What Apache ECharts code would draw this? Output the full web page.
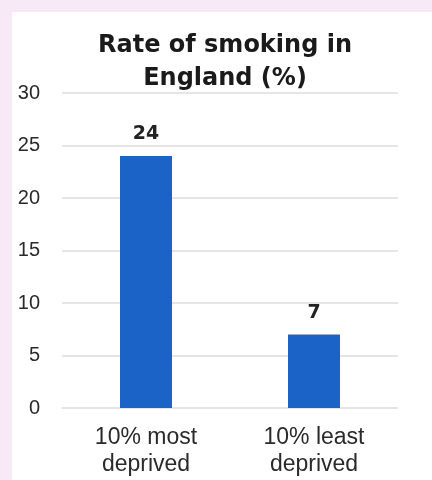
<!DOCTYPE html>
<html>
<head>
<meta charset="utf-8">
<script src="https://cdn.jsdelivr.net/npm/echarts@6/dist/echarts.min.js"></script>
<style>
html,body{margin:0;padding:0;background:#f7e9f5;}
#c{width:432px;height:480px;}
</style>
</head>
<body>
<div id="c"></div>
<script>
const titleText = "Rate of smoking in\nEngland (%)";
const categories = ["10% most\ndeprived", "10% least\ndeprived"];
const values = [24, 7];
const yTicks = [0, 5, 10, 15, 20, 25, 30];

const chart = echarts.init(document.getElementById('c'));
chart.setOption({
  backgroundColor: '#f7e9f5',
  animation: false,
  graphic: [{
    type: 'rect', left: 12, top: 12, z: -10,
    shape: { width: 420, height: 468 },
    style: { fill: '#ffffff' }
  }],
  title: {
    text: titleText,
    left: 220, top: 24, textAlign: 'center',
    textStyle: { fontFamily: 'DejaVu Sans', fontSize: 24, fontWeight: 'bold', color: '#1a1a1a', lineHeight: 33 }
  },
  grid: { left: 62, right: 34, top: 93, bottom: 72, containLabel: false },
  xAxis: {
    type: 'category', data: categories,
    axisLine: { show: false }, axisTick: { show: false },
    axisLabel: { margin: 16, fontFamily: 'Liberation Sans', fontSize: 23, color: '#2a2a2a', lineHeight: 27 }
  },
  yAxis: {
    type: 'value', min: yTicks[0], max: yTicks[yTicks.length - 1], interval: 5,
    axisLine: { show: false }, axisTick: { show: false },
    axisLabel: { margin: 22, fontFamily: 'Liberation Sans', fontSize: 20, color: '#2a2a2a' },
    splitLine: { lineStyle: { color: '#dcdcdc', width: 1.5 } }
  },
  series: [{
    type: 'bar', data: values, barWidth: 52,
    itemStyle: { color: '#1c63c8' },
    label: { show: true, position: 'top', distance: 12, fontFamily: 'DejaVu Sans', fontSize: 19, color: '#222', fontWeight: 'bold' }
  }]
});
</script>
</body>
</html>
